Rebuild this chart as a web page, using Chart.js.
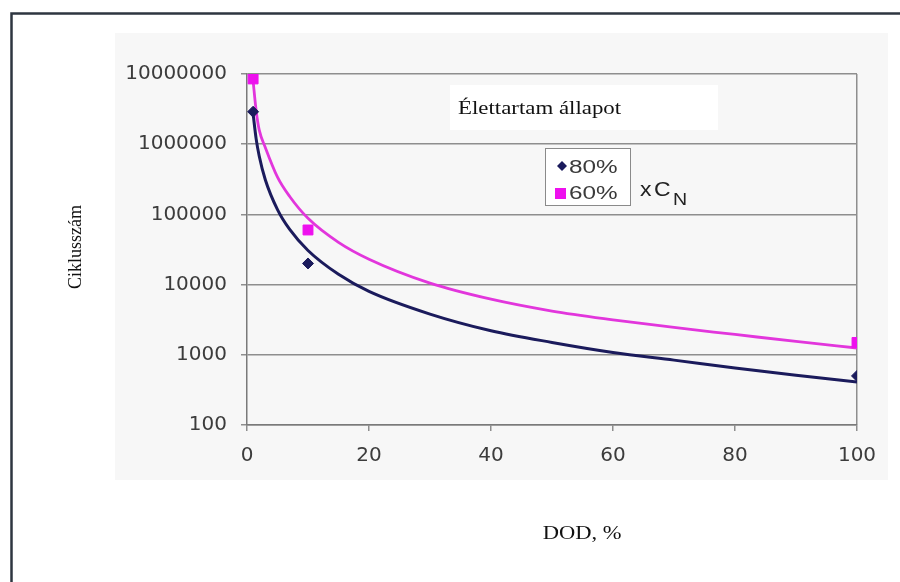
<!DOCTYPE html>
<html>
<head>
<meta charset="utf-8">
<script src="https://cdn.jsdelivr.net/npm/chart.js@4"></script>
<style>
  html, body { margin: 0; padding: 0; background: #fff; }
  #wrap { width: 900px; height: 582px; position: relative; }
</style>
</head>
<body>
<div id="wrap"><canvas id="lifeChart" width="900" height="582"></canvas></div>
<script>
// Cycle life vs depth of discharge (log y)

// measured points
const dodPoints = [1, 10, 100];
const cycles80 = [2900000, 20000, 500];
const cycles60 = [8500000, 60000, 1500];

// trend curves
const trendDod = [1, 1.5, 2, 3, 5, 7, 10, 15, 20, 30, 40, 50, 60, 70, 80, 90, 100];
const trend80 = [2700000, 1190000, 680000, 312000, 117000, 61000, 30600, 14000, 8000, 3800, 2200, 1500, 1080, 840, 650, 510, 410];
const trend60 = [8000000, 3000000, 1600000, 900000, 340000, 180000, 88000, 40000, 23000, 10500, 6200, 4200, 3150, 2450, 1950, 1550, 1250];

const yTicks = [100, 1000, 10000, 100000, 1000000, 10000000];
const seriesLabels = ['80%', '60%'];

const NAVY = '#1b1b5c';
const MAGENTA = '#ee10ee';
const MAGENTA_LINE = '#e236dc';
const GRID = '#8e8e8e';
const TICK_TXT = '#3c3c3c';

const toXY = (xs, ys) => xs.map((x, i) => ({ x, y: ys[i] }));

// text drawn a bit wider, the source picture is stretched horizontally
function wideText(ctx, text, x, y, sx, align) {
    ctx.save();
    ctx.translate(x, y);
    ctx.scale(sx, 1);
    ctx.textAlign = align || 'left';
    ctx.fillText(text, 0, 0);
    ctx.restore();
}

const framePlugin = {
    id: 'frame',
    beforeDraw(chart) {
        const ctx = chart.ctx;
        ctx.save();
        ctx.fillStyle = '#ffffff';
        ctx.fillRect(0, 0, chart.width, chart.height);
        ctx.fillStyle = '#f7f7f7';
        ctx.fillRect(115, 33, 773, 447);
        // outer frame (left + top only visible)
        ctx.strokeStyle = '#2e3640';
        ctx.lineWidth = 2.5;
        ctx.beginPath();
        ctx.moveTo(11.5, chart.height);
        ctx.lineTo(11.5, 13.5);
        ctx.lineTo(chart.width, 13.5);
        ctx.stroke();
        ctx.restore();
    },
    afterDraw(chart) {
        const ctx = chart.ctx;
        ctx.save();

        // title box
        ctx.fillStyle = '#ffffff';
        ctx.fillRect(450, 85, 268, 45);
        ctx.fillStyle = '#111';
        ctx.font = '18px "Liberation Serif", "Times New Roman", serif';
        ctx.textBaseline = 'alphabetic';
        wideText(ctx, 'Élettartam állapot', 458, 114, 1.27);

        // legend
        ctx.fillStyle = '#ffffff';
        ctx.fillRect(545, 148, 85, 57);
        ctx.strokeStyle = '#8a8a8a';
        ctx.lineWidth = 1;
        ctx.strokeRect(545.5, 148.5, 85, 57);

        ctx.fillStyle = NAVY;
        ctx.beginPath();
        ctx.moveTo(562, 161); ctx.lineTo(567, 166); ctx.lineTo(562, 171); ctx.lineTo(557, 166);
        ctx.closePath();
        ctx.fill();
        ctx.fillStyle = MAGENTA;
        ctx.fillRect(555, 188, 11, 11);

        ctx.fillStyle = '#3a3a3a';
        ctx.font = '18px "Liberation Sans", Arial, sans-serif';
        wideText(ctx, seriesLabels[0], 569, 173, 1.35);
        wideText(ctx, seriesLabels[1], 569, 199, 1.35);

        ctx.fillStyle = '#222';
        ctx.font = '20px "Liberation Sans", Arial, sans-serif';
        wideText(ctx, 'x', 640, 196, 1.15);
        wideText(ctx, 'C', 654, 196, 1.15);
        ctx.font = '17px "Liberation Sans", Arial, sans-serif';
        wideText(ctx, 'N', 673, 205, 1.15);

        // axis titles
        ctx.fillStyle = '#111';
        ctx.font = '18px "Liberation Serif", "Times New Roman", serif';
        wideText(ctx, 'DOD, %', 582, 539, 1.25, 'center');

        ctx.save();
        ctx.translate(81, 247);
        ctx.rotate(-Math.PI / 2);
        ctx.textAlign = 'center';
        ctx.fillText('Ciklusszám', 0, 0);
        ctx.restore();

        ctx.restore();
    }
};

new Chart(document.getElementById('lifeChart'), {
    type: 'scatter',
    data: {
        datasets: [
            {
                label: seriesLabels[0],
                data: toXY(dodPoints, cycles80),
                backgroundColor: NAVY,
                borderColor: NAVY,
                pointStyle: 'rectRot',
                pointRadius: 5.5,
                showLine: false
            },
            {
                label: seriesLabels[1],
                data: toXY(dodPoints, cycles60),
                backgroundColor: MAGENTA,
                borderColor: MAGENTA,
                pointStyle: 'rect',
                pointRadius: 7,
                showLine: false
            },
            {
                label: 'trend 80%',
                data: toXY(trendDod, trend80),
                borderColor: NAVY,
                borderWidth: 3,
                pointRadius: 0,
                showLine: true,
                cubicInterpolationMode: 'monotone'
            },
            {
                label: 'trend 60%',
                data: toXY(trendDod, trend60),
                borderColor: MAGENTA_LINE,
                borderWidth: 2.8,
                pointRadius: 0,
                showLine: true,
                cubicInterpolationMode: 'monotone'
            }
        ]
    },
    options: {
        responsive: false,
        animation: false,
        events: [],
        layout: { padding: { left: 0, top: 74, right: 43, bottom: 0 } },
        plugins: {
            legend: { display: false },
            tooltip: { enabled: false }
        },
        scales: {
            x: {
                type: 'linear',
                min: 0,
                max: 100,
                afterFit: s => { s.height = 157; },
                ticks: {
                    stepSize: 20,
                    color: TICK_TXT,
                    padding: 13,
                    font: { family: '"DejaVu Sans", sans-serif', size: 20 }
                },
                grid: {
                    color: c => (c.tick && c.tick.value === 100 ? GRID : 'transparent'),
                    tickColor: GRID,
                    tickLength: 6,
                    lineWidth: 1.5
                },
                border: { color: '#7a7a7a', width: 1.5 }
            },
            y: {
                type: 'logarithmic',
                min: 100,
                max: 10000000,
                afterFit: s => { s.width = 247; },
                afterBuildTicks: s => { s.ticks = yTicks.map(v => ({ value: v })); },
                ticks: {
                    color: TICK_TXT,
                    padding: 14,
                    font: { family: '"DejaVu Sans", sans-serif', size: 20 },
                    callback: v => String(v)
                },
                grid: {
                    color: GRID,
                    tickColor: GRID,
                    tickLength: 6,
                    lineWidth: 1.5
                },
                border: { color: '#7a7a7a', width: 1.5 }
            }
        }
    },
    plugins: [framePlugin]
});
</script>
</body>
</html>
